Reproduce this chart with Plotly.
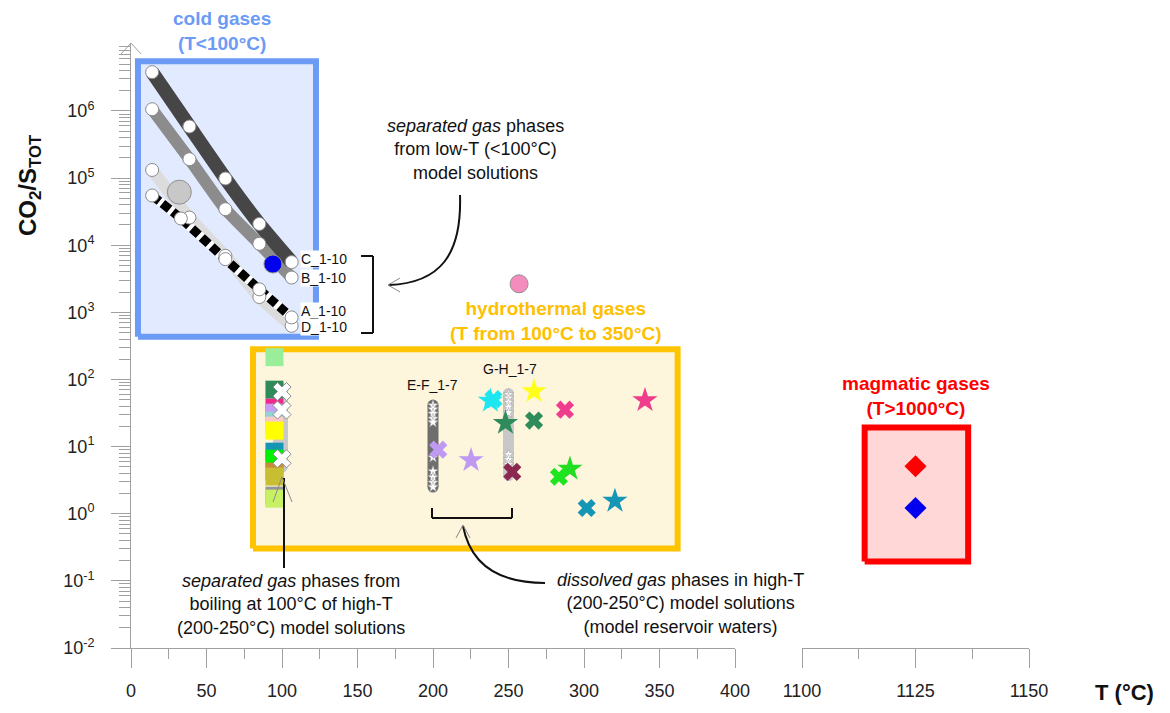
import plotly.graph_objects as go

W, H = 1170, 713

# ---------------- data ----------------
# separated gas phases from low-T (<100 °C) model solutions
T_CBD = [14, 38.7, 62.5, 85, 106.4]
T_A = [14, 33, 62.5, 85, 106.4]
co2s_C = [3.78e6, 5.86e5, 9.86e4, 2.07e4, 5.6e3]
co2s_B = [1.06e6, 1.91e5, 3.44e4, 1.05e4, 3.3e3]
co2s_D = [1.32e5, 2.58e4, 6.95e3, 1.69e3, 630]
co2s_A = [5.5e4, 2.5e4, 6.2e3, 2.2e3, 840]

# cold gas samples
cold_T = [32, 94]
cold_co2s = [6.17e4, 5.25e3]
cold_colors = ["#c8c8c8", "#0000ee"]
cold_sizes = [24, 18]

# isolated sample above the hydrothermal field
pink_T = [257]
pink_co2s = [2660]

# separated gas phases from boiling at 100 °C (stacked symbols)
boil_T = 95
boil_co2s = [215, 70.5, 38, 32, 24.4, 20.5, 17.3, 8.4, 6.6, 4.25, 3.58, 1.86, 1.68]
boil_colors = ["#99ee99", "#2e8b5a", "#f0288c", "#c89bf5", "#96d2d2", "#ffc8c8",
               "#ffff00", "#1496b4", "#00f000", "#c88c3c", "#c8be32", "#969696", "#c8f064"]
boil_band_T = [99, 99]
boil_band_co2s = [70, 5.2]
boil_x_T = [100, 100, 100]
boil_x_co2s = [66, 35, 6.6]

# dissolved gas phases in high-T model solutions
EF_T = [200, 200]
EF_range = [41.5, 2.5]
EF_stars = [41, 36, 31, 26, 23, 6.9, 4.3, 3.5, 2.9, 2.5]
GH_T = [250, 250]
GH_range = [62, 3.7]
GH_stars = [60, 53, 46, 39, 32, 7.6, 6.4, 5.4]

# hydrothermal gas samples
hx_T = [203.5, 240, 266.9, 287.4, 252.5, 283.4, 301.8]
hx_co2s = [9.0, 51, 24.4, 35.5, 4.2, 3.55, 1.22]
hx_colors = ["#bf99f2", "#1ee6f0", "#2e8b5a", "#f03c8c", "#8c2850", "#1ee61e", "#1496b4"]
hs_T = [238, 225.2, 266.9, 248, 340.4, 290.7, 320.5]
hs_co2s = [48, 6.25, 66.5, 22.4, 48.9, 4.65, 1.55]
hs_colors = ["#1ee6f0", "#bf99f2", "#ffff1a", "#2e8b5a", "#f03c8c", "#22dd22", "#1496b4"]

# magmatic gases
mag_T = [1125, 1125]
mag_co2s = [5.1, 1.22]
mag_colors = ["#ff0000", "#0000ee"]

# field outlines (T range, CO2/Stot range)
cold_box = ([4.6, 122.5], [434, 5.5e6])
hydro_box = ([80.8, 362], [0.303, 281])
magm_box = ([1113.8, 1136.6], [0.195, 19.2])

y_tickvals = [1e-2, 1e-1, 1, 10, 100, 1e3, 1e4, 1e5, 1e6]
y_ticktext = ["10<sup>-2</sup>", "10<sup>-1</sup>", "10<sup>0</sup>", "10<sup>1</sup>",
              "10<sup>2</sup>", "10<sup>3</sup>", "10<sup>4</sup>", "10<sup>5</sup>",
              "10<sup>6</sup>"]
y_minor = [k * 10.0 ** d for d in range(-2, 7) for k in range(2, 10)]
x_tickvals = [0, 50, 100, 150, 200, 250, 300, 350, 400]
x2_tickvals = [1100, 1125, 1150]

FONT = "Arial, Liberation Sans, sans-serif"
NARROW = "Liberation Sans Narrow, Arial Narrow, Liberation Sans, Arial, sans-serif"
AXC = "#a0a0a0"

fig = go.Figure()


def box(xr, yr, fill, edge, xaxis="x"):
    x0, x1 = xr
    y0, y1 = yr
    fig.add_trace(go.Scatter(
        x=[x0, x1, x1, x0, x0], y=[y0, y0, y1, y1, y0], xaxis=xaxis, yaxis="y",
        mode="lines", fill="toself", fillcolor=fill,
        line=dict(color=edge, width=6), hoverinfo="skip"))


box(*cold_box, "#e1eaff", "#6b9bf5")
box(*hydro_box, "#fdf5dc", "#ffc400")
box(*magm_box, "#ffd7d7", "#ff0000", xaxis="x2")

# model trajectories as thick bands
fig.add_trace(go.Scatter(x=T_CBD, y=co2s_D, mode="lines",
                         line=dict(color="#dcdcdc", width=12, shape="spline", smoothing=0.5)))
fig.add_trace(go.Scatter(x=T_A, y=co2s_A, mode="lines",
                         line=dict(color="#ffffff", width=9, shape="spline", smoothing=0.5)))
fig.add_trace(go.Scatter(x=T_A, y=co2s_A, mode="lines",
                         line=dict(color="#000000", width=9, dash="9px,4px",
                                   shape="spline", smoothing=0.5)))
fig.add_trace(go.Scatter(x=T_CBD, y=co2s_B, mode="lines",
                         line=dict(color="#8c8c8c", width=12, shape="spline", smoothing=0.5)))
fig.add_trace(go.Scatter(x=T_CBD, y=co2s_C, mode="lines",
                         line=dict(color="#464646", width=14, shape="spline", smoothing=0.5)))
for xs, ys in [(T_CBD, co2s_D), (T_A, co2s_A), (T_CBD, co2s_B), (T_CBD, co2s_C)]:
    fig.add_trace(go.Scatter(x=xs, y=ys, mode="markers",
                             marker=dict(symbol="circle", size=13, color="white",
                                         line=dict(color="#8a8a8a", width=1))))

fig.add_trace(go.Scatter(x=cold_T, y=cold_co2s, mode="markers",
                         marker=dict(size=cold_sizes, color=cold_colors, opacity=1,
                                     line=dict(color="#909090", width=1))))
fig.add_trace(go.Scatter(x=pink_T, y=pink_co2s, mode="markers",
                         marker=dict(size=18, color="#f58cbe", opacity=1,
                                     line=dict(color="#909090", width=1))))


def capsule(xs, ys, color, width):
    fig.add_trace(go.Scatter(x=xs, y=ys, mode="lines+markers",
                             line=dict(color=color, width=width),
                             marker=dict(symbol="circle", size=width, color=color,
                                         line=dict(width=0))))


# boiling column
capsule(boil_band_T, boil_band_co2s, "#c8c8c8", 15)
fig.add_trace(go.Scatter(x=[boil_T] * len(boil_co2s), y=boil_co2s, mode="markers",
                         marker=dict(symbol="square", size=18, color=boil_colors,
                                     opacity=1, line=dict(width=0))))
fig.add_trace(go.Scatter(x=boil_x_T, y=boil_x_co2s, mode="markers",
                         marker=dict(symbol="x", size=16, color="white",
                                     line=dict(color="#8a8a8a", width=1))))

# E-F and G-H model reservoir waters
capsule(EF_T, EF_range, "#6e6e6e", 11)
capsule(GH_T, GH_range, "#c8c8c8", 11)
fig.add_trace(go.Scatter(x=[EF_T[0]] * len(EF_stars), y=EF_stars, mode="markers",
                         marker=dict(symbol="star", size=8, color="white",
                                     line=dict(color="#9a9a9a", width=0.5))))
fig.add_trace(go.Scatter(x=[GH_T[0]] * len(GH_stars), y=GH_stars, mode="markers",
                         marker=dict(symbol="star", size=8, color="white",
                                     line=dict(color="#9a9a9a", width=0.5))))

# hydrothermal samples
fig.add_trace(go.Scatter(x=hs_T, y=hs_co2s, mode="markers",
                         marker=dict(symbol="star", size=19, color=hs_colors,
                                     opacity=1, line=dict(width=0))))
fig.add_trace(go.Scatter(x=hx_T, y=hx_co2s, mode="markers",
                         marker=dict(symbol="x", size=16, color=hx_colors,
                                     opacity=1, line=dict(width=0))))

# magmatic samples
fig.add_trace(go.Scatter(x=mag_T, y=mag_co2s, xaxis="x2", yaxis="y", mode="markers",
                         marker=dict(symbol="diamond", size=17, color=mag_colors,
                                     opacity=1, line=dict(width=0))))


# ---------------- annotations ----------------
def pp(x, y):
    return x / W, 1 - y / H


def note(text, x, y, size=18, color="#111111", bold=False, **kw):
    px_, py_ = pp(x, y)
    if bold:
        text = "<b>" + text + "</b>"
    fig.add_annotation(x=px_, y=py_, xref="paper", yref="paper", text=text,
                       showarrow=False, font=dict(family=FONT, size=size, color=color),
                       xanchor=kw.pop("xanchor", "center"), yanchor="middle", **kw)


note("cold gases<br>(T&lt;100°C)", 222, 31, size=19, color="#6b9bf5", bold=True)
note("hydrothermal gases<br>(T from 100°C to 350°C)", 556, 321, size=19,
     color="#ffc000", bold=True)
note("magmatic gases<br>(T&gt;1000°C)", 916, 396, size=19, color="#ff0000", bold=True)

note("<i>separated gas</i> phases<br>from low-T (&lt;100°C)<br>model solutions", 475, 150)
note("<i>separated gas</i> phases from<br>boiling at 100°C of high-T<br>"
     "(200-250°C) model solutions", 291, 604)
note("<i>dissolved gas</i> phases in high-T<br>(200-250°C) model solutions<br>"
     "(model reservoir waters)", 680, 603)

for lab, ly in [("C_1-10", 259), ("B_1-10", 278), ("A_1-10", 311), ("D_1-10", 327)]:
    note(lab, 300, ly, size=14, xanchor="left", bgcolor="white", borderpad=0)

note("E-F_1-7", 432, 385, size=14)
note("G-H_1-7", 510, 369, size=14)

note("T (°C)", 1124, 692, size=22, bold=True)
fig.add_annotation(x=29 / W, y=1 - 185 / H, xref="paper", yref="paper",
                   text="<b>CO<sub>2</sub>/S<sub>TOT</sub></b>", textangle=-90,
                   showarrow=False, font=dict(family=FONT, size=24, color="#111111"),
                   xanchor="center", yanchor="middle")


def seg(pts, color="#111111", width=2):
    for (x0, y0), (x1, y1) in zip(pts[:-1], pts[1:]):
        a, b = pp(x0, y0)
        c, d = pp(x1, y1)
        fig.add_shape(type="line", x0=a, y0=b, x1=c, y1=d, xref="paper", yref="paper",
                      line=dict(color=color, width=width))


def curve(p0, c1, c2, p1, color="#111111", width=2):
    pts = [pp(*p) for p in (p0, c1, c2, p1)]
    s = "M {:.5f},{:.5f} C {:.5f},{:.5f} {:.5f},{:.5f} {:.5f},{:.5f}".format(
        *[v for p in pts for v in p])
    fig.add_shape(type="path", path=s, xref="paper", yref="paper",
                  line=dict(color=color, width=width))


# bracket around the low-T model labels and its leader
seg([(361, 256), (373, 256), (373, 333), (361, 333)])
curve((460, 195), (462, 255), (440, 283), (389, 285))
seg([(400, 278), (388, 285), (400, 292)], color="#8a8a8a", width=1)

# leader for boiling column
seg([(284, 478), (284, 568)])
seg([(273, 502), (282, 477), (292, 502)], color="#8a8a8a", width=1)

# bracket below E-F / G-H and its leader
seg([(432, 508), (432, 518), (512, 518), (512, 508)])
curve((463, 526), (470, 562), (495, 583), (545, 583))
seg([(456, 538), (463, 525), (470, 538)], color="#8a8a8a", width=1)

# y axis arrow head
seg([(121, 54), (131, 43), (141, 54)], color=AXC, width=1)

# ---------------- axes ----------------
axis_common = dict(showgrid=False, zeroline=False, showline=True, linecolor=AXC,
                   linewidth=1, ticks="outside", tickcolor=AXC, ticklen=19,
                   automargin=False,
                   tickfont=dict(family=NARROW, size=18, color="#222222"))

fig.update_layout(
    width=W, height=H, autosize=False,
    margin=dict(l=0, r=0, t=0, b=0),
    paper_bgcolor="white", plot_bgcolor="rgba(0,0,0,0)",
    showlegend=False,
    xaxis=dict(domain=[131 / W, 735 / W], range=[0, 400], anchor="y",
               tickmode="array", tickvals=x_tickvals, ticklabelstandoff=7,
               minor=dict(dtick=25, ticks="outside", ticklen=10, tickcolor=AXC),
               **axis_common),
    xaxis2=dict(domain=[802 / W, 1029 / W], range=[1100, 1150], anchor="y",
                tickmode="array", tickvals=x2_tickvals, ticklabelstandoff=7,
                minor=dict(dtick=12.5, tick0=1100, ticks="outside", ticklen=10,
                           tickcolor=AXC),
                **axis_common),
    yaxis=dict(type="log", domain=[1 - 648 / H, 1 - 43.8 / H], range=[-2, 7],
               anchor="x", tickmode="array", tickvals=y_tickvals, ticktext=y_ticktext,
               ticklabelstandoff=13, automargin=False,
               minor=dict(tickmode="array", tickvals=y_minor, ticks="outside",
                          ticklen=11, tickcolor=AXC),
               showgrid=False, zeroline=False, showline=True, linecolor=AXC,
               linewidth=1, ticks="outside", tickcolor=AXC, ticklen=19,
               tickfont=dict(family=FONT, size=18, color="#222222")),
)

fig.write_html("out.html")
